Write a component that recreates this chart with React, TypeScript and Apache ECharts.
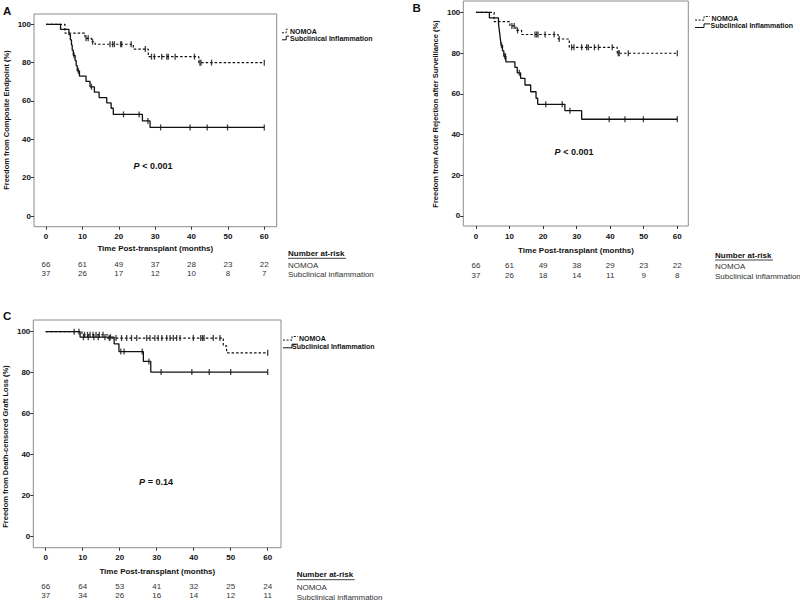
import React, { useEffect, useRef } from "react";
import * as echarts from "echarts";

// ---------------- data ----------------
const tickX = [0, 10, 20, 30, 40, 50, 60];
const tickY = [0, 20, 40, 60, 80, 100];

// Panel A – composite endpoint
const aNomoaT = [0, 5.2, 10.7, 12.5, 13.5, 24.0, 28.1, 42.0, 60];
const aNomoaS = [100, 95.4, 92.7, 90.9, 89.6, 87.1, 83.1, 80.0, 80.0];
const aNomoaCens = [11.0, 11.6, 12.8, 17.6, 18.3, 18.8, 20.5, 20.8, 23.4, 27.3, 29.0, 29.8, 31.8, 33.2, 33.6, 35.5, 40.8, 42.3, 42.6, 45.5, 60];
const aSubT = [0, 4.0, 6.3, 6.7, 7.0, 7.2, 7.5, 8.0, 8.3, 8.6, 9.2, 11.0, 12.1, 13.3, 14.6, 16.7, 17.9, 18.5, 26.5, 28.6, 60];
const aSubS = [100, 97.3, 94.6, 91.9, 89.2, 86.5, 83.8, 81.1, 78.4, 75.7, 73.0, 70.2, 67.4, 64.6, 61.8, 59.0, 56.2, 53.0, 49.6, 46.2, 46.2];
const aSubCens = [7.7, 8.9, 12.5, 21.3, 25.6, 28.0, 31.5, 39.6, 44.3, 49.9, 60];
const aRiskNomoa = [66, 61, 49, 37, 28, 23, 22];
const aRiskSub = [37, 26, 17, 12, 10, 8, 7];

// Panel B – acute rejection
const bNomoaT = [0, 5.4, 10.1, 11.9, 13.6, 24.5, 27.8, 42.1, 60];
const bNomoaS = [100, 95.4, 93.3, 91.1, 89.1, 86.9, 82.8, 79.9, 79.9];
const bNomoaCens = [10.7, 11.4, 12.4, 17.6, 18.1, 18.5, 20.6, 23.3, 24.8, 28.5, 29.2, 31.5, 33.0, 33.5, 35.3, 36.5, 40.6, 42.4, 42.7, 45.4, 60];
const bSubT = [0, 4.0, 6.7, 6.9, 7.1, 7.3, 7.5, 7.9, 8.3, 8.9, 11.6, 12.3, 13.3, 14.6, 16.3, 17.9, 18.4, 26.5, 31.5, 60];
const bSubS = [100, 97.3, 94.6, 91.9, 89.2, 86.5, 83.8, 81.1, 78.4, 75.7, 73.0, 70.3, 67.6, 64.3, 61.0, 57.8, 54.8, 51.7, 47.5, 47.5];
const bSubCens = [7.6, 8.6, 8.8, 12.9, 20.8, 25.7, 28.0, 39.7, 44.4, 49.9, 60];
const bRiskNomoa = [66, 61, 49, 38, 29, 23, 22];
const bRiskSub = [37, 26, 18, 14, 11, 9, 8];

// Panel C – death-censored graft loss
const cNomoaT = [0, 9.8, 16.7, 48.0, 48.9, 60];
const cNomoaS = [100, 98.5, 96.9, 93.1, 89.7, 89.7];
const cNomoaCens = [7.7, 10.5, 11.3, 12.0, 12.8, 13.6, 14.5, 15.5, 17.2, 19.0, 20.5, 21.9, 23.2, 24.6, 27.3, 28.2, 29.5, 30.4, 31.4, 32.7, 33.6, 34.5, 35.4, 36.3, 39.9, 41.9, 42.4, 42.8, 45.3, 47.1, 60];
const cSubT = [0, 9.3, 18.5, 19.8, 26.4, 28.4, 60];
const cSubS = [100, 97.3, 94.1, 90.3, 85.5, 80.3, 80.3];
const cSubCens = [9.0, 10.2, 11.5, 13.0, 14.2, 16.0, 17.5, 20.3, 21.2, 26.1, 27.9, 31.2, 39.5, 44.2, 50.0, 60];
const cRiskNomoa = [66, 64, 53, 41, 32, 25, 24];
const cRiskSub = [37, 34, 26, 16, 14, 12, 11];

const groupNames = ["NOMOA", "Subclinical Inflammation"];
const riskRowNames = ["NOMOA", "Subclinical inflammation"];
const yTitles = [
  "Freedom from Composite Endpoint (%)",
  "Freedom from Acute Rejection after Surveillance (%)",
  "Freedom from Death-censored Graft Loss (%)",
];
const xTitle = "Time Post-transplant (months)";
const pTexts = ["< 0.001", "< 0.001", "= 0.14"];
const panelLetters = ["A", "B", "C"];

// ---------------- layout ----------------
const FONT = '"Liberation Sans", Arial, Helvetica, sans-serif';
const INK = "#111";

const layouts = [
  {
    grid: { left: 34, top: 14, width: 242.7, height: 212.7 },
    x: [-3.3, 63.41], y: [-5.58, 105.37], gap: 18,
    letter: [3, 11], yTitle: [6.7, 120], xTitle: [155.3, 248.3],
    legend: { sx: 282, sw: 7, tx: [290, 290], ty: [31, 38] },
    risk: { x: 288, head: 253.3, rows: [265, 274.5] },
    p: [153, 165.7],
  },
  {
    grid: { left: 463.3, top: 1, width: 225, height: 225 },
    x: [-3.78, 63.28], y: [-4.91, 105.55], gap: 20,
    letter: [412.5, 8.3], yTitle: [435, 114], xTitle: [576, 250.7],
    legend: { sx: 695, sw: 15, tx: [711.5, 710.5], ty: [18.3, 25.7] },
    risk: { x: 715, head: 255, rows: [266.7, 276] },
    p: [574, 151.7],
  },
  {
    grid: { left: 33.3, top: 320, width: 247.7, height: 227.7 },
    x: [-3.35, 63.6], y: [-5.37, 105.7], gap: 19,
    letter: [3, 315.8], yTitle: [5, 446.5], xTitle: [157.3, 571.7],
    legend: { sx: 283, sw: 15, tx: [299, 292], ty: [338.3, 346] },
    risk: { x: 296.7, head: 574.7, rows: [587.3, 597.3] },
    p: [156, 481.7],
  },
];

const panelData = [
  { n: [aNomoaT, aNomoaS, aNomoaCens], s: [aSubT, aSubS, aSubCens], r: [aRiskNomoa, aRiskSub] },
  { n: [bNomoaT, bNomoaS, bNomoaCens], s: [bSubT, bSubS, bSubCens], r: [bRiskNomoa, bRiskSub] },
  { n: [cNomoaT, cNomoaS, cNomoaCens], s: [cSubT, cSubS, cSubCens], r: [cRiskNomoa, cRiskSub] },
];

function stepPoints(ts: number[], ss: number[]) {
  return ts.map((t, i) => [t, ss[i]]);
}
function valueAt(ts: number[], ss: number[], t: number) {
  let v = ss[0];
  for (let i = 0; i < ts.length; i++) if (ts[i] <= t) v = ss[i];
  return v;
}
function censorPoints(ts: number[], ss: number[], cs: number[]) {
  return cs.map((c) => [c, valueAt(ts, ss, c)]);
}

function buildOption() {
  const grid: any[] = [];
  const xAxis: any[] = [];
  const yAxis: any[] = [];
  const series: any[] = [];
  const graphic: any[] = [];

  layouts.forEach((L, i) => {
    const D = panelData[i];
    grid.push({
      ...L.grid,
      show: true,
      borderColor: "#8c8c8c",
      borderWidth: 1,
      backgroundColor: "transparent",
      containLabel: false,
      outerBoundsMode: "none",
    });
    const riskN = D.r[0];
    const riskS = D.r[1];
    xAxis.push({
      type: "value",
      gridIndex: i,
      min: L.x[0],
      max: L.x[1],
      axisLine: { show: false, onZero: false },
      splitLine: { show: false },
      axisTick: { show: true, length: 3, customValues: tickX, lineStyle: { color: "#333", width: 1 } },
      axisLabel: {
        customValues: tickX,
        margin: 5,
        formatter: (v: number) => {
          const k = tickX.indexOf(Math.round(v));
          return `{t|${Math.round(v)}}\n{g| }\n{n|${riskN[k]}}\n{n|${riskS[k]}}`;
        },
        rich: {
          t: { fontSize: 8, fontWeight: "bold", fontFamily: FONT, color: INK, lineHeight: 10 },
          g: { fontSize: 2, lineHeight: L.gap },
          n: { fontSize: 8, fontFamily: FONT, color: "#333", lineHeight: 9.5 },
        },
      },
    });
    yAxis.push({
      type: "value",
      gridIndex: i,
      min: L.y[0],
      max: L.y[1],
      axisLine: { show: false, onZero: false },
      splitLine: { show: false },
      axisTick: { show: true, length: 3, customValues: tickY, lineStyle: { color: "#333", width: 1 } },
      axisLabel: {
        customValues: tickY,
        margin: 3,
        fontSize: 8,
        fontWeight: "bold",
        fontFamily: FONT,
        color: INK,
      },
    });

    // NOMOA dashed step line
    series.push({
      type: "line",
      xAxisIndex: i,
      yAxisIndex: i,
      step: "end",
      showSymbol: false,
      silent: true,
      data: stepPoints(D.n[0], D.n[1]),
      lineStyle: { color: INK, width: 1.2, type: [2.5, 2] },
      z: 2,
    });
    // Subclinical solid step line
    series.push({
      type: "line",
      xAxisIndex: i,
      yAxisIndex: i,
      step: "end",
      showSymbol: false,
      silent: true,
      data: stepPoints(D.s[0], D.s[1]),
      lineStyle: { color: INK, width: 1.3, type: "solid" },
      z: 3,
    });
    // censor marks
    [D.n, D.s].forEach((g) => {
      series.push({
        type: "scatter",
        xAxisIndex: i,
        yAxisIndex: i,
        silent: true,
        symbol: "rect",
        symbolSize: [1.3, 6],
        itemStyle: { color: INK },
        data: censorPoints(g[0], g[1], g[2]),
        z: 4,
      });
    });

    // panel letter
    graphic.push({
      type: "text",
      x: L.letter[0],
      y: L.letter[1],
      style: {
        text: panelLetters[i],
        fontSize: 11.5,
        fontWeight: "bold",
        fontFamily: FONT,
        fill: INK,
        align: "left",
        verticalAlign: "middle",
      },
    });
    // y title
    graphic.push({
      type: "text",
      x: L.yTitle[0],
      y: L.yTitle[1],
      rotation: Math.PI / 2,
      style: {
        text: yTitles[i],
        fontSize: 7.5,
        fontWeight: "bold",
        fontFamily: FONT,
        fill: INK,
        align: "center",
        verticalAlign: "middle",
      },
    });
    // x title
    graphic.push({
      type: "text",
      x: L.xTitle[0],
      y: L.xTitle[1],
      style: {
        text: xTitle,
        fontSize: 8,
        fontWeight: "bold",
        fontFamily: FONT,
        fill: INK,
        align: "center",
        verticalAlign: "middle",
      },
    });
    // P value
    graphic.push({
      type: "text",
      x: L.p[0],
      y: L.p[1],
      style: {
        text: `{i|P}{b| ${pTexts[i]}}`,
        align: "center",
        verticalAlign: "middle",
        rich: {
          i: { fontSize: 9, fontWeight: "bold", fontStyle: "italic", fontFamily: FONT, fill: INK, color: INK },
          b: { fontSize: 9, fontWeight: "bold", fontFamily: FONT, fill: INK, color: INK },
        },
      },
    });
    // legend
    const lg = L.legend;
    [0, 1].forEach((k) => {
      const yy = lg.ty[k];
      const xs = lg.sx;
      const w = lg.sw;
      graphic.push({
        type: "polyline",
        shape: {
          points: [
            [xs, yy + 1.8],
            [xs + w * 0.6, yy + 1.8],
            [xs + w * 0.6, yy - 1.8],
            [xs + w, yy - 1.8],
          ],
        },
        style: {
          stroke: INK,
          fill: null,
          lineWidth: 1,
          lineDash: k === 0 ? [2, 1.6] : null,
        },
      });
      graphic.push({
        type: "text",
        x: lg.tx[k],
        y: yy,
        style: {
          text: groupNames[k],
          fontSize: 7,
          fontWeight: "bold",
          fontFamily: FONT,
          fill: INK,
          align: "left",
          verticalAlign: "middle",
        },
      });
    });
    // number at risk header + rows
    const rk = L.risk;
    graphic.push({
      type: "text",
      x: rk.x,
      y: rk.head,
      style: {
        text: "Number at-risk",
        fontSize: 8,
        fontWeight: "bold",
        fontFamily: FONT,
        fill: INK,
        align: "left",
        verticalAlign: "middle",
      },
    });
    graphic.push({
      type: "line",
      shape: { x1: rk.x, y1: rk.head + 5, x2: rk.x + 58, y2: rk.head + 5 },
      style: { stroke: INK, lineWidth: 0.8 },
    });
    [0, 1].forEach((k) => {
      graphic.push({
        type: "text",
        x: rk.x,
        y: rk.rows[k],
        style: {
          text: riskRowNames[k],
          fontSize: 8,
          fontFamily: FONT,
          fill: "#333",
          align: "left",
          verticalAlign: "middle",
        },
      });
    });
  });

  return {
    animation: false,
    backgroundColor: "#ffffff",
    textStyle: { fontFamily: FONT },
    grid,
    xAxis,
    yAxis,
    series,
    graphic,
  };
}

export default function App() {
  const ref = useRef<HTMLDivElement>(null);
  useEffect(() => {
    if (!ref.current) return;
    const chart = echarts.init(ref.current, null, { renderer: "svg", width: 800, height: 601 });
    chart.setOption(buildOption() as any);
    return () => chart.dispose();
  }, []);
  return (
    <div
      ref={ref}
      style={{ position: "absolute", left: 0, top: 0, width: 800, height: 601, background: "#fff" }}
    />
  );
}
